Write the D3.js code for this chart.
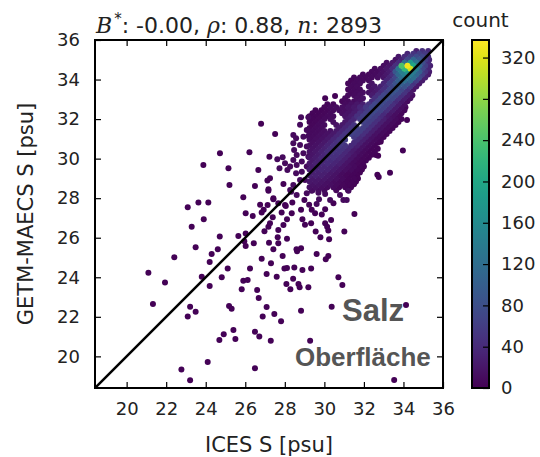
<!DOCTYPE html>
<html><head><meta charset="utf-8">
<script src="https://cdn.jsdelivr.net/npm/d3@7"></script>
<style>body{margin:0;background:#fff}svg{display:block}</style>
</head><body>
<svg id="c" width="540" height="457"></svg>
<script>
// ---------------- data ----------------
const xTicks=[20,22,24,26,28,30,32,34,36];
const yTicks=[20,22,24,26,28,30,32,34,36];
const countTicks=[0,40,80,120,160,200,240,280,320];
const countMax=337;
const axisMin=18.4, axisMax=36;
const xLabel="ICES S [psu]", yLabel="GETM-MAECS S [psu]", cbLabel="count";
const titleParts=[["B","m"],["*","sup"],[": -0.00, ","t"],["ρ","m"],[": 0.88, ","t"],["n","m"],[": 2893","t"]];
const annot1="Salz", annot2="Oberfläche";

// isolated observations (low count) [ICES S, model S]
const sparsePoints=[
[23.09,27.54],[23.63,27.78],[24.13,27.78],[23.90,26.93],[23.29,26.56],[23.49,25.52],[24.30,25.18],[24.20,24.77],[22.41,25.01],[21.10,24.23],[21.94,23.73],[23.80,24.03],[24.20,23.56],[21.33,22.65],[23.21,22.51],[23.49,22.26],[23.09,22.01],[24.10,19.72],[22.77,19.34],[23.21,18.79],
[25.90,28.05],[26.75,27.67],[27.13,27.66],[27.42,27.94],[27.67,27.74],[28.01,27.66],[28.38,27.78],[27.17,28.38],[26.02,27.24],[26.38,27.10],[26.83,27.27],[26.93,27.41],[27.39,27.03],[27.84,27.27],[28.05,27.61],[28.35,27.24],[28.82,27.41],[28.99,27.91],[29.23,27.67],[29.36,27.41],[29.53,27.24],[29.87,27.17],[28.89,26.93],[29.02,26.66],[29.33,26.73],[30.04,26.73],[30.14,26.56],[29.56,26.31],[29.80,26.02],[30.24,25.92],[30.20,26.36],[30.34,26.90],[30.46,27.74],[30.04,27.44],
[24.71,26.06],[24.61,25.42],[25.65,26.09],[26.02,26.22],[25.95,25.82],[26.02,25.58],[26.43,25.72],[26.97,26.33],[27.17,26.56],[27.25,26.73],[27.67,26.39],[27.93,26.65],[28.11,26.93],[27.64,26.02],[27.67,25.72],[28.11,25.95],[27.20,25.75],[27.42,25.42],[27.89,25.08],[28.59,25.42],[28.82,25.47],[28.62,25.31],[29.61,25.18],[30.20,25.08],[30.07,24.91],
[25.11,24.44],[24.81,24.00],[26.24,24.44],[26.83,24.94],[27.30,24.71],[27.08,24.17],[27.59,24.03],[27.98,24.44],[28.11,24.47],[28.48,24.50],[28.89,24.37],[29.33,24.44],[28.42,23.93],[28.08,23.66],[28.28,23.39],[28.69,23.66],[28.75,23.49],[29.19,23.49],[25.82,23.39],[25.90,23.83],[26.12,23.86],[26.60,23.36],[26.68,22.95],[25.18,22.55],[25.31,22.41],[27.08,22.50],[26.88,22.01],[27.47,22.14],[27.81,21.77],[28.82,22.31],[30.37,22.51],
[25.40,21.33],[24.91,21.12],[24.69,20.83],[25.50,20.88],[26.49,21.25],[26.71,21.00],[27.29,20.79],[29.28,20.79],[26.49,19.40],
[31.52,27.20],[31.01,26.31],[30.71,24.00],[30.91,23.61],[34.13,22.60],[33.53,18.80],
[26.80,31.76],[27.51,31.25],[24.72,30.27],[26.21,30.32],[23.88,29.68],[25.15,29.51],[26.66,29.43],[27.22,30.10],[27.25,29.01],[27.12,28.89],[25.20,28.67],[26.49,28.62],[27.17,28.45],[27.93,28.72],[27.42,28.00],
[30.04,33.05],[30.54,33.17],[33.97,30.41],[33.32,29.29],[32.72,30.14],[32.68,29.19],[32.75,29.07],[32.85,30.86],[34.18,31.96],[32.61,30.19]
];
const sparseCount=2;
// observations at the cluster's edge
const edgePoints=[
[27.62,29.97],[27.89,30.07],[28.01,29.77],[28.27,29.60],[28.13,29.43],[27.73,29.51],[28.27,28.42],[28.43,28.67],[28.60,28.16],[28.32,28.33],[29.73,27.94],[30.29,27.91],[30.96,27.91],[31.13,27.91],[29.61,27.71],
[28.82,32.09],[29.19,32.09],[28.77,31.71],[29.11,31.45],[28.43,31.20],[28.57,31.03],[28.94,31.11],[29.19,31.15],[28.43,30.78],[28.77,30.69],[29.11,30.61],[28.47,30.44],[28.60,30.19],[28.94,30.27],[28.43,29.93],[28.60,29.68],[28.86,29.85],[29.19,30.10],[29.11,29.60],[28.86,29.34],[28.57,29.26],[29.02,28.92],[28.77,28.92],[29.11,28.25],[29.36,28.38],[29.70,28.28],[30.04,28.21],[30.79,28.16],[31.22,28.38]
];
const edgeCount=8;
// dense cluster: [model S, [ICES S ...], [count ...]]
const clusterRows=[
[35.45,[34.65,34.95,35.25],[30,45,40]],
[35.3,[34.2,34.5,34.8,35.1],[35,50,60,55]],
[35.15,[33.75,34.05,34.35,34.65,34.95,35.25],[20,40,60,75,70,45]],
[35.0,[33.6,33.9,34.2,34.5,34.8,35.1,35.3],[15,30,70,110,90,60,35]],
[34.85,[33.15,33.45,33.75,34.05,34.35,34.65,34.95,35.25],[12,20,40,120,180,130,80,40]],
[34.7,[33.0,33.3,33.6,33.9,34.2,34.5,34.8,35.1,35.35],[12,18,45,240,330,200,110,60,30]],
[34.55,[32.55,32.85,33.15,33.45,33.75,34.05,34.35,34.65,34.95,35.25],[8,12,20,40,130,220,310,140,70,35]],
[34.4,[32.4,32.7,33.0,33.3,33.6,33.9,34.2,34.5,34.8,35.1,35.3],[8,10,15,25,90,140,170,140,100,50,25]],
[34.25,[31.95,32.25,32.55,32.85,33.15,33.45,33.75,34.05,34.35,34.65,34.95,35.25],[8,8,10,14,22,45,110,140,140,110,60,25]],
[34.1,[31.5,31.8,32.1,32.4,32.7,33.0,33.3,33.6,33.9,34.2,34.5,34.8,35.1],[6,8,8,10,12,18,35,70,120,130,120,70,30]],
[33.95,[31.35,31.65,31.95,32.25,33.15,33.45,33.75,34.05,34.35,34.65,34.95],[6,8,8,10,35,60,100,120,110,60,25]],
[33.8,[31.2,31.5,31.8,32.4,33.0,33.3,33.6,33.9,34.2,34.5,34.8],[6,8,10,16,35,60,85,100,90,50,20]],
[33.65,[31.35,31.65,32.25,32.55,32.85,33.15,33.45,33.75,34.05,34.35,34.65],[8,10,15,20,30,45,70,90,85,55,20]],
[33.5,[31.2,31.5,31.8,32.4,32.7,33.0,33.3,33.6,33.9,34.2,34.5],[6,8,10,18,25,45,70,90,70,45,18]],
[33.35,[31.35,31.65,31.95,32.25,32.55,32.85,33.15,33.45,33.75,34.05,34.35],[8,10,12,15,22,40,65,85,75,50,20]],
[33.2,[31.2,31.5,31.8,32.4,32.7,33.0,33.3,33.6,33.9,34.2,34.45],[8,10,12,25,45,70,80,70,45,25,12]],
[33.05,[31.05,31.65,31.95,32.55,32.85,33.15,33.45,33.75,34.05,34.35],[8,12,15,45,70,80,70,45,25,12]],
[32.9,[30.9,31.2,31.5,31.8,32.4,32.7,33.0,33.3,33.6,33.9,34.2],[6,8,10,14,40,65,75,65,40,22,10]],
[32.75,[30.15,30.45,31.05,31.35,31.65,31.95,32.25,32.55,32.85,33.15,33.45,33.75,34.05],[5,6,10,14,20,30,50,70,75,65,45,25,12]],
[32.6,[30.0,30.3,30.6,30.9,31.2,31.5,31.8,32.1,32.4,32.7,33.0,33.3,33.6,33.9,34.1],[6,8,10,12,16,22,35,55,70,75,65,45,25,12,6]],
[32.45,[29.55,29.85,30.15,30.45,30.75,31.05,31.35,31.65,31.95,32.25,32.55,32.85,33.15,33.45,33.75,34.05],[5,5,6,8,10,12,16,25,40,60,75,65,45,25,12,6]],
[32.3,[29.4,29.7,30.0,30.3,30.9,31.2,31.5,31.8,32.1,32.4,32.7,33.0,33.3,33.6,33.9],[5,5,6,8,12,16,25,45,60,70,60,40,22,12,6]],
[32.15,[29.25,29.55,29.85,30.15,30.45,31.05,31.35,31.65,31.95,32.25,32.55,32.85,33.15,33.45,33.75],[5,5,6,8,10,16,25,45,60,70,60,40,22,12,6]],
[32.0,[29.4,29.7,30.0,30.3,31.2,31.5,31.8,32.1,32.4,32.7,33.0,33.3,33.6,33.9],[5,6,8,10,22,35,55,65,60,45,28,15,8,5]],
[31.85,[29.25,29.55,29.85,30.45,31.05,31.35,31.95,32.25,32.55,32.85,33.15,33.45,33.75],[5,6,8,12,22,35,65,60,45,28,15,8,5]],
[31.7,[29.4,29.7,30.0,30.6,30.9,31.2,31.5,32.1,32.4,32.7,33.0,33.3,33.6],[6,8,10,15,22,35,50,60,45,28,15,8,5]],
[31.55,[29.25,29.55,29.85,30.75,31.05,31.35,31.65,31.95,32.25,32.55,32.85,33.15,33.45],[6,8,10,22,35,50,65,60,45,28,15,8,5]],
[31.4,[29.4,29.7,30.0,30.3,30.6,30.9,31.2,31.5,31.8,32.1,32.4,32.7,33.0,33.3],[8,10,12,15,22,35,50,65,60,45,28,15,8,5]],
[31.25,[29.25,29.55,29.85,30.15,30.45,30.75,31.05,31.35,31.65,31.95,32.25,32.55,32.85,33.15],[8,10,12,15,22,35,50,65,60,45,28,15,8,5]],
[31.1,[29.4,29.7,30.0,30.3,30.6,30.9,31.5,31.8,32.1,32.4,32.7,33.0],[10,12,15,22,35,50,55,42,28,15,8,5]],
[30.95,[29.25,29.55,29.85,30.15,30.45,30.75,31.05,31.65,31.95,32.25,32.55,32.85],[10,12,15,22,35,50,60,42,28,15,8,5]],
[30.8,[29.4,29.7,30.0,30.3,30.6,30.9,31.5,31.8,32.1,32.4,32.7],[12,15,22,32,45,55,40,28,15,8,5]],
[30.65,[29.25,29.55,29.85,30.15,30.45,30.75,31.05,31.35,31.65,31.95,32.25,32.55],[12,15,22,32,45,55,50,40,28,15,8,5]],
[30.5,[29.4,29.7,30.0,30.3,30.6,30.9,31.2,31.5,31.8,32.1,32.4,32.7],[15,20,30,42,50,48,38,25,15,8,5,4]],
[30.35,[29.25,29.55,29.85,30.15,30.45,30.75,31.05,31.35,31.65,31.95,32.25,32.55],[15,20,30,42,50,48,38,25,15,8,5,4]],
[30.2,[29.4,29.7,30.0,30.3,30.6,30.9,31.2,31.5,31.8,32.1,32.4],[18,25,35,45,45,38,28,18,10,6,4]],
[30.05,[29.25,29.55,29.85,30.15,30.45,30.75,31.05,31.35,31.65,31.95,32.25],[18,25,35,45,45,38,28,18,10,6,4]],
[29.9,[29.4,29.7,30.0,30.3,30.6,30.9,31.2,31.5,31.8,32.1],[22,30,38,40,35,28,18,10,6,4]],
[29.75,[29.25,29.55,29.85,30.15,30.45,30.75,31.05,31.35,31.65,31.95],[22,30,38,40,35,28,18,10,6,4]],
[29.6,[29.4,29.7,30.0,30.3,30.6,30.9,31.2,31.5,31.8,32.0],[25,32,35,32,25,18,12,8,5,3]],
[29.45,[29.25,29.55,29.85,30.15,30.45,30.75,31.05,31.35,31.65,31.9],[25,32,35,32,25,18,12,8,5,3]],
[29.3,[29.4,29.7,30.0,30.3,30.6,30.9,31.2,31.5,31.8],[28,30,28,22,16,10,6,4,3]],
[29.15,[29.25,29.55,29.85,30.15,30.45,30.75,31.05,31.35,31.65],[28,30,28,22,16,10,6,4,3]],
[29.0,[29.4,29.7,30.0,30.3,30.6,30.9,31.2,31.5,31.7],[22,22,20,16,12,8,5,4,3]],
[28.85,[29.25,29.55,29.85,30.15,30.45,30.75,31.05,31.35,31.6],[20,20,18,14,10,7,5,4,3]],
[28.7,[29.4,29.7,30.0,30.3,30.6,30.9,31.2,31.5],[16,16,14,12,9,6,4,3]],
[28.55,[29.25,29.55,29.85,30.15,30.45,30.75,31.05,31.35],[14,14,12,10,8,5,4,3]],
[28.4,[29.4,29.7,30.0,30.6,31.2],[10,10,9,6,3]]
];

// ---------------- drawing ----------------
const FONT="'DejaVu Sans', sans-serif";
const svg=d3.select("#c");
const L=95,T=40,S=348;
const x=d3.scaleLinear().domain([axisMin,axisMax]).range([L,L+S]);
const y=d3.scaleLinear().domain([axisMin,axisMax]).range([T+S,T]);
const color=d3.scaleSequential(d3.interpolateViridis).domain([0,countMax]);

const pts=[];
sparsePoints.forEach(p=>pts.push({x:p[0],y:p[1],c:sparseCount}));
edgePoints.forEach(p=>pts.push({x:p[0],y:p[1],c:edgeCount}));
clusterRows.forEach(r=>r[1].forEach((xv,i)=>pts.push({x:xv,y:r[0],c:r[2][i]})));
pts.sort((a,b)=>a.c-b.c);

const defs=svg.append("defs");
defs.append("clipPath").attr("id","clip").append("rect").attr("x",L).attr("y",T).attr("width",S).attr("height",S);
const grad=defs.append("linearGradient").attr("id","cbg").attr("x1",0).attr("y1",1).attr("x2",0).attr("y2",0);
d3.range(0,1.0001,0.05).forEach(t=>grad.append("stop").attr("offset",t).attr("stop-color",d3.interpolateViridis(t)));

const g=svg.append("g").attr("clip-path","url(#clip)");
g.selectAll("circle").data(pts).join("circle")
 .attr("cx",d=>x(d.x)).attr("cy",d=>y(d.y)).attr("r",3).attr("fill",d=>color(d.c));
g.append("line").attr("x1",x(axisMin)).attr("y1",y(axisMin)).attr("x2",x(axisMax)).attr("y2",y(axisMax))
 .attr("stroke","#000").attr("stroke-width",2.5);

// annotations
svg.append("text").attr("x",342).attr("y",321).text(annot1)
 .attr("font-family","'Liberation Sans', Arial, sans-serif").attr("font-weight","bold").attr("font-size",31).attr("fill","#555");
svg.append("text").attr("x",295).attr("y",366).text(annot2)
 .attr("font-family","'Liberation Sans', Arial, sans-serif").attr("font-weight","bold").attr("font-size",26).attr("fill","#555");

function styleAxis(sel){
  sel.select(".domain").remove();
  sel.selectAll(".tick line").attr("stroke","#000").attr("stroke-width",1.2);
  sel.selectAll("text").attr("font-family",FONT).attr("font-size",18).attr("fill","#222");
}
svg.append("g").attr("transform",`translate(0,${T+S})`)
 .call(d3.axisBottom(x).tickValues(xTicks).tickSize(-6).tickPadding(14)).call(styleAxis);
svg.append("g").attr("transform",`translate(0,${T})`)
 .call(d3.axisTop(x).tickValues(xTicks).tickSize(-6).tickFormat("")).call(styleAxis);
svg.append("g").attr("transform",`translate(${L},0)`)
 .call(d3.axisLeft(y).tickValues(yTicks).tickSize(-6).tickPadding(15)).call(styleAxis);
svg.append("g").attr("transform",`translate(${L+S},0)`)
 .call(d3.axisRight(y).tickValues(yTicks).tickSize(-6).tickFormat("")).call(styleAxis);

svg.append("rect").attr("x",L).attr("y",T).attr("width",S).attr("height",S)
 .attr("fill","none").attr("stroke","#000").attr("stroke-width",2);

// labels
svg.append("text").attr("x",269).attr("y",452).attr("text-anchor","middle").text(xLabel)
 .attr("font-family",FONT).attr("font-size",21).attr("fill","#222");
svg.append("text").attr("transform","translate(33,214) rotate(-90)").attr("text-anchor","middle").text(yLabel)
 .attr("font-family",FONT).attr("font-size",21).attr("fill","#222");

// title
const tt=svg.append("text").attr("x",96).attr("y",33).attr("font-family",FONT).attr("font-size",22).attr("fill","#222");
titleParts.forEach(([s,k])=>{
  const sp=tt.append("tspan").text(s);
  if(k==="m") sp.attr("font-family","'DejaVu Serif', serif").attr("font-style","italic");
  if(k==="sup") sp.attr("font-size",15).attr("baseline-shift","super").attr("dx",2);
});

// colorbar
const cbX=472,cbW=17;
const cy=d3.scaleLinear().domain([0,countMax]).range([T+S,T]);
svg.append("rect").attr("x",cbX).attr("y",T).attr("width",cbW).attr("height",S).attr("fill","url(#cbg)");
svg.append("g").attr("transform",`translate(${cbX+cbW},0)`)
 .call(d3.axisRight(cy).tickValues(countTicks).tickSize(-6).tickPadding(12)).call(styleAxis);
svg.append("rect").attr("x",cbX).attr("y",T).attr("width",cbW).attr("height",S)
 .attr("fill","none").attr("stroke","#000").attr("stroke-width",2);
svg.append("text").attr("x",cbX+cbW/2).attr("y",27).attr("text-anchor","middle").text(cbLabel)
 .attr("font-family",FONT).attr("font-size",20).attr("fill","#222");
</script>
</body></html>
